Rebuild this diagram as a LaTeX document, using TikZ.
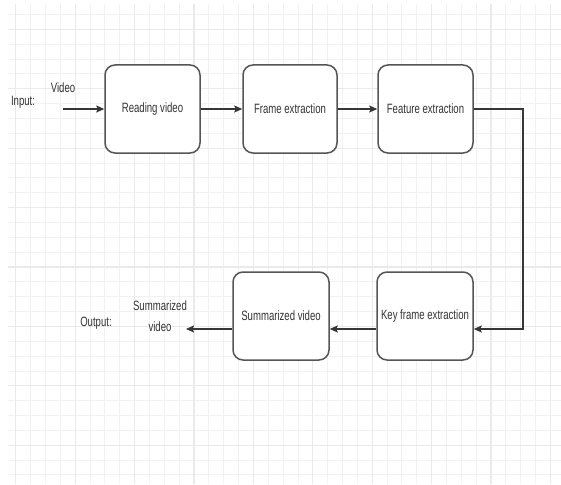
\documentclass[tikz,border=0pt]{standalone}
\usepackage{fontspec}
\setmainfont{Liberation Sans}
\usepackage{graphicx}
\usetikzlibrary{arrows.meta,calc}
\definecolor{gridminor}{HTML}{F1F1F1}
\definecolor{gridmajor}{HTML}{EAEAEA}
\definecolor{boxline}{HTML}{555555}
\definecolor{txt}{HTML}{333333}
\definecolor{arrcol}{HTML}{363636}
\newcommand\sq[1]{\scalebox{0.71}[1]{#1}}
\tikzset{
  stepbox/.style={draw=boxline, line width=1.5pt, rounded corners=10pt, fill=white,
    minimum width=95pt, minimum height=88pt, inner sep=0pt, text=txt,
    font=\fontsize{13.5}{16}\selectfont},
  lbl/.style={inner sep=0pt, text=txt, font=\fontsize{13.5}{21}\selectfont},
  arr/.style={draw=arrcol, line width=1.6pt, -{Stealth[length=8pt,width=7pt,inset=1.5pt]}},
  gmin/.style={draw=gridminor, line width=0.9pt},
  gmaj/.style={draw=gridmajor, line width=1.1pt}
}
\begin{document}
\begin{tikzpicture}[x=1pt,y=-1pt]
\useasboundingbox (0,0) rectangle (561,484);
\fill[white] (0,0) rectangle (561,484);
\begin{scope}
\clip (8,4) rectangle (561,484);
\foreach \i in {-1,...,38} \draw[gmin] ({15.8+14.85*\i},4) -- ++(0,480);
\foreach \i in {-2,...,32} \draw[gmin] (8,{29.4+14.85*\i}) -- ++(553,0);
\foreach \i in {0,...,9} \draw[gmaj] ({15.8+59.4*\i},4) -- ++(0,480);
\foreach \i in {-1,...,8} \draw[gmaj] (8,{29.4+59.4*\i}) -- ++(553,0);
\end{scope}

\node[stepbox] (read) at (152.5,109) {\sq{Reading video}};
\node[stepbox, minimum width=94pt] (frame) at (290,109) {\sq{Frame extraction}};
\node[stepbox] (feat) at (425.5,109) {\sq{Feature extraction}};
\node[stepbox, minimum width=96pt] (key) at (425,316) {\sq{Key frame extraction}};
\node[stepbox, minimum width=96pt] (summ) at (281,316) {\sq{Summarized video}};

\node[lbl] (inlbl) at (23,102) {\sq{Input:}};
\node[lbl] (vidlbl) at (63,88) {\sq{Video}};
\node[lbl] (outlbl) at (96,323) {\sq{Output:}};
\node[lbl] (sumlbl) at (160,317) {\sq{\begin{tabular}{@{}c@{}}Summarized\\video\end{tabular}}};

\coordinate (inbeg) at (63,109);
\coordinate (kin) at ([yshift=-13pt]key.east);
\coordinate (outend) at (186,329);

\draw[arr] (inbeg) -- (read.west);
\draw[arr] (read.east) -- (frame.west);
\draw[arr] (frame.east) -- (feat.west);
\draw[arr] (feat.east) -- ++(49,0) |- (kin);
\draw[arr] (kin -| key.west) -- (kin -| summ.east);
\draw[arr] (outend -| summ.west) -- (outend);
\end{tikzpicture}
\end{document}
